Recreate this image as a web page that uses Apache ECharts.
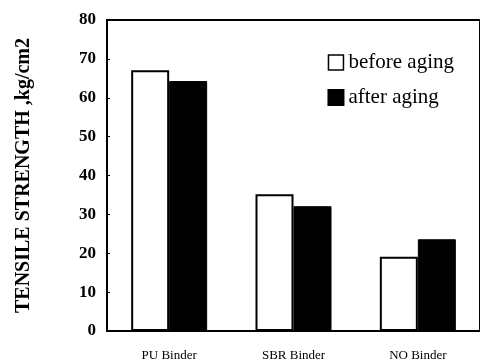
<!DOCTYPE html>
<html><head><meta charset="utf-8">
<script src="https://cdn.jsdelivr.net/npm/echarts@6/dist/echarts.min.js"></script>
<style>html,body{margin:0;padding:0;background:#fff}#c{width:480px;height:364px}</style>
</head><body><div id="c"></div>
<script>
var categories = ['PU Binder', 'SBR Binder', 'NO Binder'];
var beforeAging = [67.1, 35.2, 19.1];
var afterAging = [64.3, 32.1, 23.6];
var yTicks = {min: 0, max: 80, interval: 10};
var yTitle = 'TENSILE STRENGTH ,kg/cm2';

var chart = echarts.init(document.getElementById('c'));
var serif = '"Liberation Serif", "DejaVu Serif", serif';
chart.setOption({
  animation: false,
  backgroundColor: '#fff',
  grid: {left: 107, right: -8, top: 20, bottom: 33, show: true, borderColor: '#000', borderWidth: 2, backgroundColor: 'transparent'},
  legend: {
    right: 21, top: 47, orient: 'vertical', itemGap: 14, itemWidth: 15, itemHeight: 15,
    textStyle: {fontFamily: serif, fontSize: 21, color: '#000'},
    data: [
      {name: 'before aging', icon: 'rect', itemStyle: {color: '#fff', borderColor: '#000', borderWidth: 1.5}},
      {name: 'after aging', icon: 'rect', itemStyle: {color: '#000'}}
    ]
  },
  xAxis: {
    type: 'category', data: categories,
    axisLine: {lineStyle: {color: '#000', width: 2}},
    axisTick: {show: false},
    axisLabel: {color: '#000', fontFamily: serif, fontSize: 13, margin: 18}
  },
  yAxis: {
    type: 'value', min: yTicks.min, max: yTicks.max, interval: yTicks.interval,
    name: yTitle, nameLocation: 'middle', nameGap: 73, nameRotate: 90,
    nameTextStyle: {fontFamily: serif, fontSize: 20, fontWeight: 'bold', color: '#000'},
    axisLine: {show: true, lineStyle: {color: '#000', width: 2}},
    axisTick: {show: true, inside: true, length: 3, lineStyle: {color: '#000', width: 1}},
    splitLine: {show: false},
    axisLabel: {color: '#000', fontFamily: serif, fontSize: 17, fontWeight: 'bold', margin: 11}
  },
  series: [
    {name: 'before aging', type: 'bar', data: beforeAging, barWidth: 38, barGap: '0%',
     itemStyle: {color: '#fff', borderColor: '#000', borderWidth: 2}},
    {name: 'after aging', type: 'bar', data: afterAging, barWidth: 38,
     itemStyle: {color: '#000', borderColor: '#000', borderWidth: 1}}
  ]
});
</script></body></html>
